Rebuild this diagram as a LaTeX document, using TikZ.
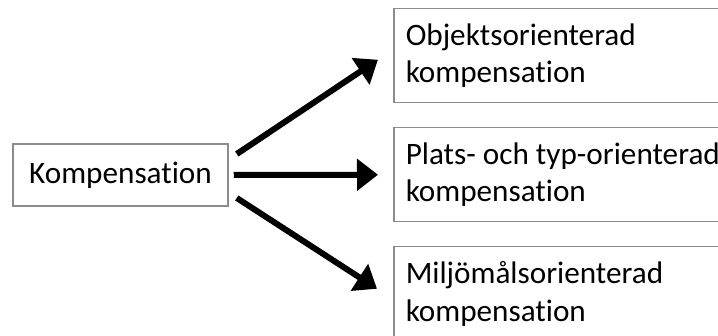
\documentclass[tikz,border=0pt]{standalone}
\usepackage{fontspec}
\setmainfont{Carlito}[Ligatures=NoCommon]
\usetikzlibrary{arrows.meta}

\tikzstyle{start}=[draw=gray!90,line width=1.5pt,minimum width=215pt,minimum height=62pt,inner sep=0pt,font=\fontsize{31.2}{37.5}\selectfont]
\tikzstyle{goal}=[draw=gray!90,line width=1.5pt,anchor=north west,minimum height=94pt,inner xsep=12pt,text width=330pt,align=flush left,font=\fontsize{31.2}{37.5}\selectfont]
\tikzstyle{arr}=[line width=6pt,-{Triangle[length=21pt,width=31pt]}]

\begin{document}
\begin{tikzpicture}[x=1pt,y=1pt]
		\useasboundingbox (0,0) rectangle (718,-336);

		\node (komp) at (120.5,-175) [start] {Kompensation};
		\node (obj) at (393,-8) [goal] {Objektsorienterad\\kompensation};
		\node (plats) at (393,-127) [goal] {Plats- och typ-orienterad\\kompensation};
		\node (miljo) at (393,-246) [goal] {Miljömålsorienterad\\kompensation};

		\draw [arr] ([xshift=8pt,yshift=21pt]komp.east)-- ([xshift=-15pt,yshift=-4pt]obj.west);
		\draw [arr] ([xshift=5pt]komp.east)-- ([xshift=-15pt]plats.west);
		\draw [arr] ([xshift=8pt,yshift=-23pt]komp.east)-- ([xshift=-16pt,yshift=5pt]miljo.west);
	\end{tikzpicture}
\end{document}
